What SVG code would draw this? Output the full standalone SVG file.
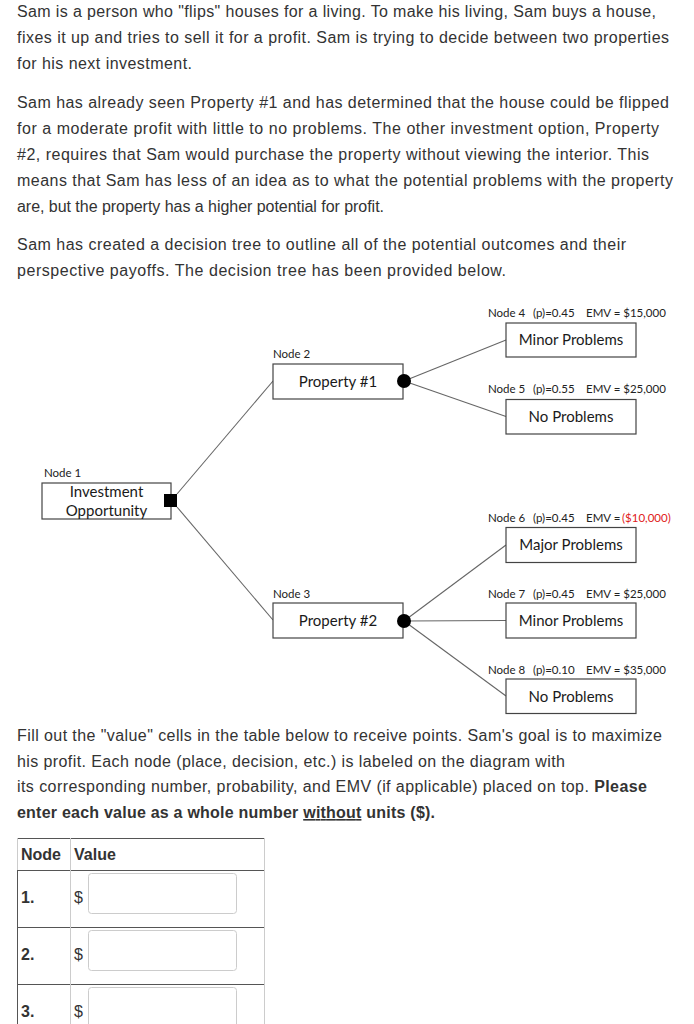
<svg xmlns="http://www.w3.org/2000/svg" width="694" height="1024" viewBox="0 0 694 1024">
<style>
.body{font-family:"Liberation Sans",Arial,sans-serif;font-size:16px;fill:#333}
.b{font-weight:bold}
.lbl{font-family:Lato,"Liberation Sans",sans-serif;font-size:11.5px;fill:#222}
.box{fill:#fff;stroke:#444;stroke-width:1.2}
.bt{font-family:Lato,"Liberation Sans",sans-serif;font-size:15px;fill:#1a1a1a;text-anchor:middle}
.con{stroke:#666;stroke-width:1.1;fill:none}
.inp{fill:#fff;stroke:#ccc;stroke-width:1}
.tl{stroke:#555;stroke-width:1}
.tl2{stroke:#ccc;stroke-width:1}
</style>
<rect width="694" height="1024" fill="#fff"/>
<g id="intro">
<text class="body" x="17" y="17" textLength="639">Sam is a person who "flips" houses for a living. To make his living, Sam buys a house,</text>
<text class="body" x="17" y="43" textLength="652">fixes it up and tries to sell it for a profit. Sam is trying to decide between two properties</text>
<text class="body" x="17" y="69" textLength="175">for his next investment.</text>
<text class="body" x="17" y="108" textLength="652">Sam has already seen Property #1 and has determined that the house could be flipped</text>
<text class="body" x="17" y="134" textLength="642">for a moderate profit with little to no problems. The other investment option, Property</text>
<text class="body" x="17" y="160" textLength="632">#2, requires that Sam would purchase the property without viewing the interior. This</text>
<text class="body" x="17" y="186" textLength="656">means that Sam has less of an idea as to what the potential problems with the property</text>
<text class="body" x="17" y="212" textLength="367">are, but the property has a higher potential for profit.</text>
<text class="body" x="17" y="250" textLength="609">Sam has created a decision tree to outline all of the potential outcomes and their</text>
<text class="body" x="17" y="276" textLength="489">perspective payoffs. The decision tree has been provided below.</text>
</g>
<g id="connectors">
<line class="con" x1="177" y1="494" x2="273" y2="381"/>
<line class="con" x1="177" y1="507" x2="273" y2="620"/>
<line class="con" x1="404" y1="381" x2="506" y2="340"/>
<line class="con" x1="404" y1="381" x2="506" y2="416.5"/>
<line class="con" x1="404" y1="621" x2="506" y2="545"/>
<line class="con" x1="404" y1="621" x2="506" y2="620.5"/>
<line class="con" x1="404" y1="621" x2="506" y2="696"/>
</g>
<g id="node1">
<text class="lbl" x="44" y="477">Node 1</text>
<rect class="box" x="42" y="483" width="129" height="36"/>
<text class="bt" x="106.5" y="497">Investment</text>
<text class="bt" x="106.5" y="516">Opportunity</text>
<rect x="164" y="494" width="13" height="13" fill="#000"/>
</g>
<g id="node2">
<text class="lbl" x="273" y="358">Node 2</text>
<rect class="box" x="273" y="364" width="130" height="35"/>
<text class="bt" x="338" y="387">Property #1</text>
<circle cx="404" cy="381" r="7" fill="#000"/>
</g>
<g id="node3">
<text class="lbl" x="273" y="598">Node 3</text>
<rect class="box" x="273" y="603" width="130" height="35"/>
<text class="bt" x="338" y="626">Property #2</text>
<circle cx="404" cy="621" r="7" fill="#000"/>
</g>
<g id="node4">
<text class="lbl" y="317"><tspan x="488">Node 4</tspan><tspan x="533">(p)=0.45</tspan><tspan x="586">EMV = $15,000</tspan></text>
<rect class="box" x="506" y="323" width="130" height="34"/>
<text class="bt" x="571" y="345">Minor Problems</text>
</g>
<g id="node5">
<text class="lbl" y="393"><tspan x="488">Node 5</tspan><tspan x="533">(p)=0.55</tspan><tspan x="586">EMV = $25,000</tspan></text>
<rect class="box" x="506" y="399.5" width="130" height="34.5"/>
<text class="bt" x="571" y="422">No Problems</text>
</g>
<g id="node6">
<text class="lbl" y="522"><tspan x="488">Node 6</tspan><tspan x="533">(p)=0.45</tspan><tspan x="586">EMV =</tspan><tspan x="622" fill="#e02020">($10,000)</tspan></text>
<rect class="box" x="506" y="527.5" width="130" height="35"/>
<text class="bt" x="571" y="550">Major Problems</text>
</g>
<g id="node7">
<text class="lbl" y="598"><tspan x="488">Node 7</tspan><tspan x="533">(p)=0.45</tspan><tspan x="586">EMV = $25,000</tspan></text>
<rect class="box" x="506" y="603" width="130" height="35"/>
<text class="bt" x="571" y="626">Minor Problems</text>
</g>
<g id="node8">
<text class="lbl" y="674"><tspan x="488">Node 8</tspan><tspan x="533">(p)=0.10</tspan><tspan x="586">EMV = $35,000</tspan></text>
<rect class="box" x="506" y="679" width="130" height="34.5"/>
<text class="bt" x="571" y="702">No Problems</text>
</g>
<g id="instructions">
<text class="body" x="17" y="741" textLength="645">Fill out the "value" cells in the table below to receive points. Sam's goal is to maximize</text>
<text class="body" x="17" y="767" textLength="548">his profit. Each node (place, decision, etc.) is labeled on the diagram with</text>
<text class="body" x="17" y="792" textLength="630">its corresponding number, probability, and EMV (if applicable) placed on top. <tspan class="b">Please</tspan></text>
<text class="body b" x="17" y="818" textLength="418">enter each value as a whole number <tspan text-decoration="underline">without</tspan> units ($).</text>
</g>
<g id="table">
<line class="tl" x1="17" y1="838.5" x2="265" y2="838.5"/>
<line class="tl" x1="17" y1="870.5" x2="265" y2="870.5"/>
<line class="tl" x1="17" y1="927.5" x2="265" y2="927.5"/>
<line class="tl" x1="17" y1="984.5" x2="265" y2="984.5"/>
<line class="tl2" x1="17.5" y1="838" x2="17.5" y2="870"/>
<line class="tl" x1="17.5" y1="870" x2="17.5" y2="1024"/>
<line class="tl2" x1="70.5" y1="838" x2="70.5" y2="1024"/>
<line class="tl2" x1="264.5" y1="838" x2="264.5" y2="1024"/>
<text class="body b" x="21" y="860">Node</text>
<text class="body b" x="74" y="860">Value</text>
<text class="body b" x="21" y="903">1.</text>
<text class="body" x="74" y="903">$</text>
<rect class="inp" x="88.5" y="873.5" width="148" height="40" rx="3"/>
<text class="body b" x="21" y="960">2.</text>
<text class="body" x="74" y="960">$</text>
<rect class="inp" x="88.5" y="930.5" width="148" height="40" rx="3"/>
<text class="body b" x="21" y="1017">3.</text>
<text class="body" x="74" y="1017">$</text>
<rect class="inp" x="88.5" y="987.5" width="148" height="45" rx="3"/>
</g>
</svg>
